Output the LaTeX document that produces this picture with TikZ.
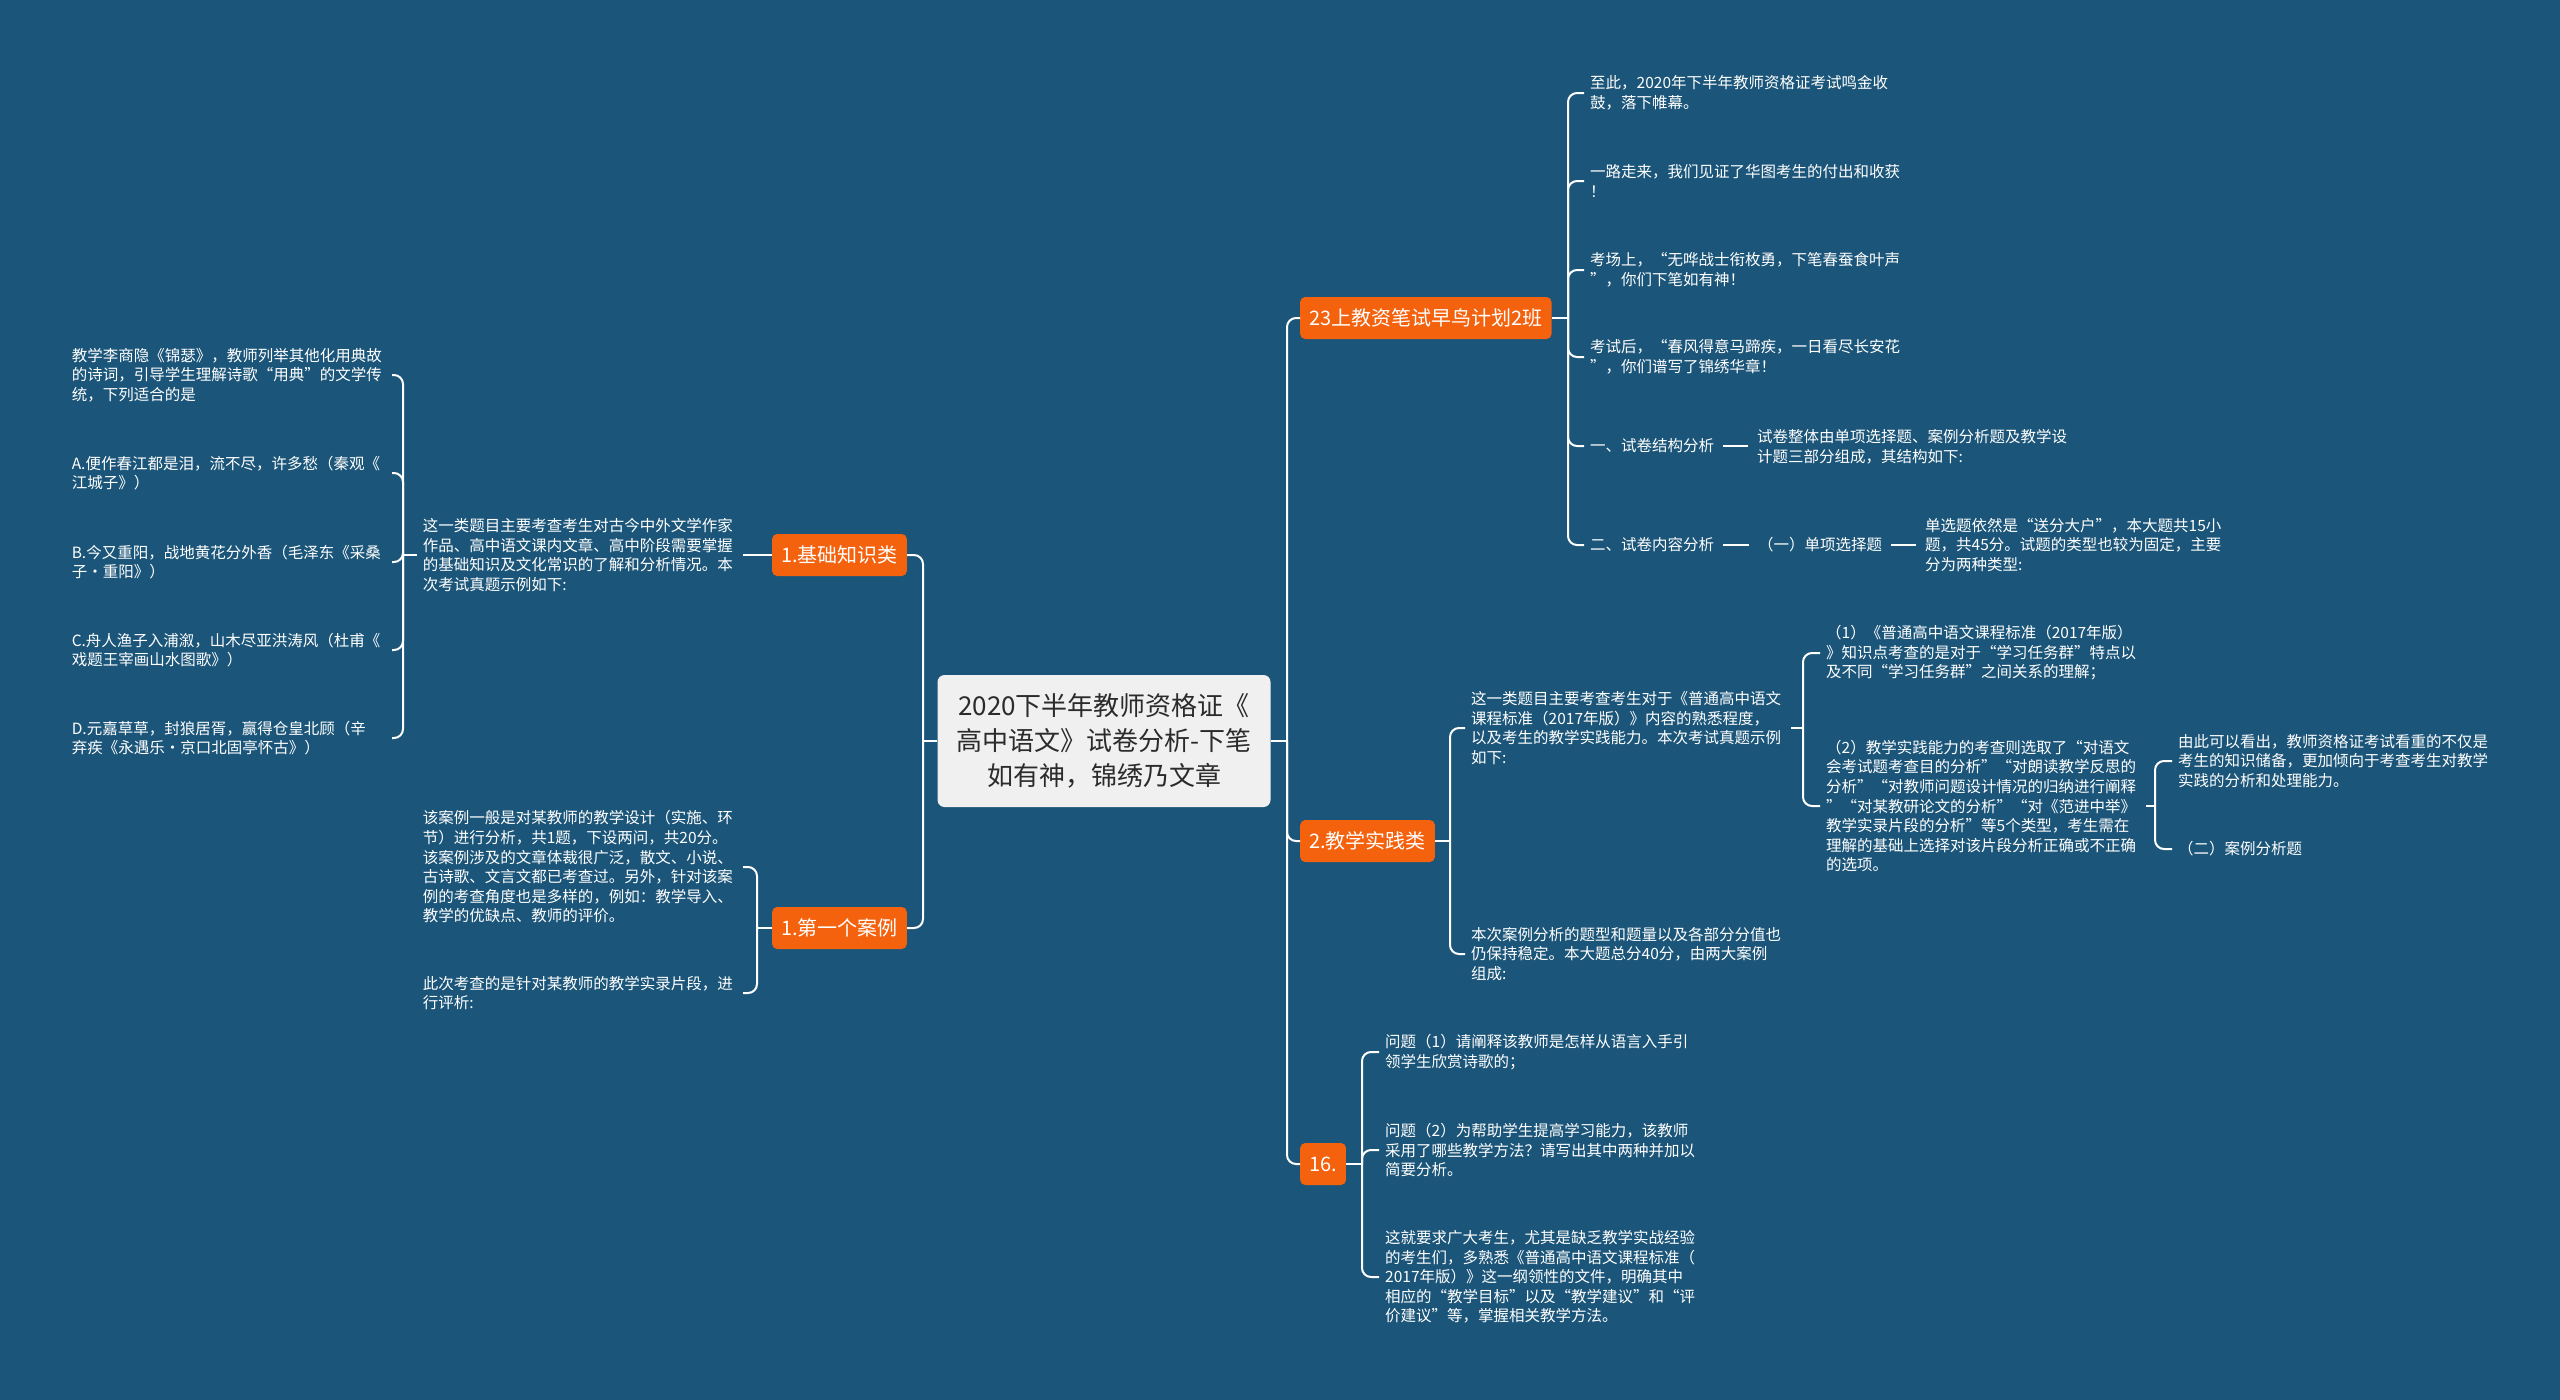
\documentclass[tikz,border=0pt]{standalone}
\usepackage{fontspec}
\setmainfont{Noto Sans CJK SC}
\definecolor{bg}{HTML}{1B5579}
\definecolor{org}{HTML}{F4620E}
\definecolor{ctr}{HTML}{F0F0F0}
\definecolor{ctrtxt}{HTML}{2B2B2B}
\tikzset{
  conn/.style={draw=white, line width=2pt, rounded corners=9pt},
  topic/.style={fill=org, text=white, rounded corners=5pt, font=\fontsize{20}{24}\selectfont, inner xsep=9pt, minimum height=42pt},
  txt/.style={text=white, font=\fontsize{15.5}{19.6}\selectfont, align=left, text width=314pt, inner xsep=6pt, inner ysep=2pt, anchor=west},
  short/.style={text=white, font=\fontsize{15.5}{19.6}\selectfont, inner xsep=6pt, inner ysep=2pt, anchor=west},
  center/.style={fill=ctr, text=ctrtxt, rounded corners=7pt, font=\fontsize{26}{35}\selectfont, align=center, minimum width=333pt, minimum height=132pt},
}
\begin{document}
\begin{tikzpicture}[x=1pt,y=-1pt]
\fill[bg] (0,0) rectangle (2560,1400);
\useasboundingbox (0,0) rectangle (2560,1400);

% centre
\node[center] (c) at (1104,741) {2020下半年教师资格证《\\高中语文》试卷分析-下笔\\如有神，锦绣乃文章};
\coordinate (rj) at (1287,741);
\coordinate (lj) at (923,741);

% right topics
\node[topic, anchor=west] (t1) at (1300,318) {23上教资笔试早鸟计划2班};
\node[topic, anchor=west] (t2) at (1300,841) {2.教学实践类};
\node[topic, anchor=west] (t3) at (1300,1164) {16.};
% left topics
\node[topic, anchor=east] (k1) at (907,555) {1.基础知识类};
\node[topic, anchor=east] (k2) at (907,928) {1.第一个案例};

\draw[conn] (c.east) -- (rj);
\draw[conn] (rj) |- (t1.west);
\draw[conn] (rj) |- (t2.west);
\draw[conn] (rj) |- (t3.west);
\draw[conn] (c.west) -- (lj);
\draw[conn] (lj) |- (k1.east);
\draw[conn] (lj) |- (k2.east);

% branch t1
\node[txt] (n1) at (1584,93) {至此，2020年下半年教师资格证考试鸣金收\\鼓，落下帷幕。};
\node[txt] (n2) at (1584,181) {一路走来，我们见证了华图考生的付出和收获\\！};
\node[txt] (n3) at (1584,270) {考场上，“无哗战士衔枚勇，下笔春蚕食叶声\\”，你们下笔如有神！};
\node[txt] (n4) at (1584,357) {考试后，“春风得意马蹄疾，一日看尽长安花\\”，你们谱写了锦绣华章！};
\node[short] (n5) at (1584,446) {一、试卷结构分析};
\node[txt] (n5c) at (1751,447) {试卷整体由单项选择题、案例分析题及教学设\\计题三部分组成，其结构如下:};
\node[short] (n6) at (1584,545) {二、试卷内容分析};
\node[short] (n6a) at (1752,545) {（一）单项选择题};
\node[txt] (n6b) at (1919,545) {单选题依然是“送分大户”，本大题共15小\\题，共45分。试题的类型也较为固定，主要\\分为两种类型:};
\coordinate (b1) at (1568,318);
\draw[conn] (t1.east) -- (b1);
\foreach \n in {n1,n2,n3,n4,n5,n6} \draw[conn] (b1) |- (\n.west);
\draw[conn, shorten <=3pt, shorten >=3pt] (n5.east) -- (n5.east -| n5c.west);
\draw[conn, shorten <=3pt, shorten >=3pt] (n6.east) -- (n6a.west);
\draw[conn, shorten <=3pt, shorten >=3pt] (n6a.east) -- (n6b.west);

% branch t2
\node[txt] (m1) at (1465,728) {这一类题目主要考查考生对于《普通高中语文\\课程标准（2017年版）》内容的熟悉程度，\\以及考生的教学实践能力。本次考试真题示例\\如下:};
\node[txt] (m2) at (1465,954) {本次案例分析的题型和题量以及各部分分值也\\仍保持稳定。本大题总分40分，由两大案例\\组成:};
\coordinate (b2) at (1450,841);
\draw[conn] (t2.east) -- (b2);
\draw[conn] (b2) |- (m1.west);
\draw[conn] (b2) |- (m2.west);
\node[txt] (m1a) at (1820,653) {（1）《普通高中语文课程标准（2017年版）\\》知识点考查的是对于“学习任务群”特点以\\及不同“学习任务群”之间关系的理解；};
\node[txt] (m1b) at (1820,806) {（2）教学实践能力的考查则选取了“对语文\\会考试题考查目的分析”“对朗读教学反思的\\分析”“对教师问题设计情况的归纳进行阐释\\”“对某教研论文的分析”“对《范进中举》\\教学实录片段的分析”等5个类型，考生需在\\理解的基础上选择对该片段分析正确或不正确\\的选项。};
\coordinate (b3) at (1803,728);
\draw[conn] (m1.east) -- (b3);
\draw[conn] (b3) |- (m1a.west);
\draw[conn] (b3) |- (m1b.west);
\node[txt] (m1b1) at (2172,761) {由此可以看出，教师资格证考试看重的不仅是\\考生的知识储备，更加倾向于考查考生对教学\\实践的分析和处理能力。};
\node[short] (m1b2) at (2172,849) {（二）案例分析题};
\coordinate (b4) at (2155,806);
\draw[conn] (m1b.east) -- (b4);
\draw[conn] (b4) |- (m1b1.west);
\draw[conn] (b4) |- (m1b2.west);

% branch t3
\node[txt] (q1) at (1379,1052) {问题（1）请阐释该教师是怎样从语言入手引\\领学生欣赏诗歌的；};
\node[txt] (q2) at (1379,1150) {问题（2）为帮助学生提高学习能力，该教师\\采用了哪些教学方法？请写出其中两种并加以\\简要分析。};
\node[txt] (q3) at (1379,1277) {这就要求广大考生，尤其是缺乏教学实战经验\\的考生们，多熟悉《普通高中语文课程标准（\\2017年版）》这一纲领性的文件，明确其中\\相应的“教学目标”以及“教学建议”和“评\\价建议”等，掌握相关教学方法。};
\coordinate (b5) at (1362,1164);
\draw[conn] (t3.east) -- (b5);
\foreach \n in {q1,q2,q3} \draw[conn] (b5) |- (\n.west);

% left branch k1
\node[txt, anchor=east] (L1) at (743,555) {这一类题目主要考查考生对古今中外文学作家\\作品、高中语文课内文章、高中阶段需要掌握\\的基础知识及文化常识的了解和分析情况。本\\次考试真题示例如下:};
\draw[conn] (k1.west) -- (L1.east);
\node[txt, anchor=east] (La) at (392,375) {教学李商隐《锦瑟》，教师列举其他化用典故\\的诗词，引导学生理解诗歌“用典”的文学传\\统，下列适合的是};
\node[txt, anchor=east] (LA) at (392,473) {A.便作春江都是泪，流不尽，许多愁（秦观《\\江城子》）};
\node[txt, anchor=east] (LB) at (392,562) {B.今又重阳，战地黄花分外香（毛泽东《采桑\\子·重阳》）};
\node[txt, anchor=east] (LC) at (392,650) {C.舟人渔子入浦溆，山木尽亚洪涛风（杜甫《\\戏题王宰画山水图歌》）};
\node[txt, anchor=east] (LD) at (392,738) {D.元嘉草草，封狼居胥，赢得仓皇北顾（辛\\弃疾《永遇乐·京口北固亭怀古》）};
\coordinate (b6) at (403,555);
\draw[conn] (L1.west) -- (b6);
\foreach \n in {La,LA,LB,LC,LD} \draw[conn] (b6) |- (\n.east);

% left branch k2
\node[txt, anchor=east] (P1) at (743,867) {该案例一般是对某教师的教学设计（实施、环\\节）进行分析，共1题，下设两问，共20分。\\该案例涉及的文章体裁很广泛，散文、小说、\\古诗歌、文言文都已考查过。另外，针对该案\\例的考查角度也是多样的，例如：教学导入、\\教学的优缺点、教师的评价。};
\node[txt, anchor=east] (P2) at (743,993) {此次考查的是针对某教师的教学实录片段，进\\行评析:};
\coordinate (b7) at (757,928);
\draw[conn] (k2.west) -- (b7);
\draw[conn] (b7) |- (P1.east);
\draw[conn] (b7) |- (P2.east);
\end{tikzpicture}
\end{document}
